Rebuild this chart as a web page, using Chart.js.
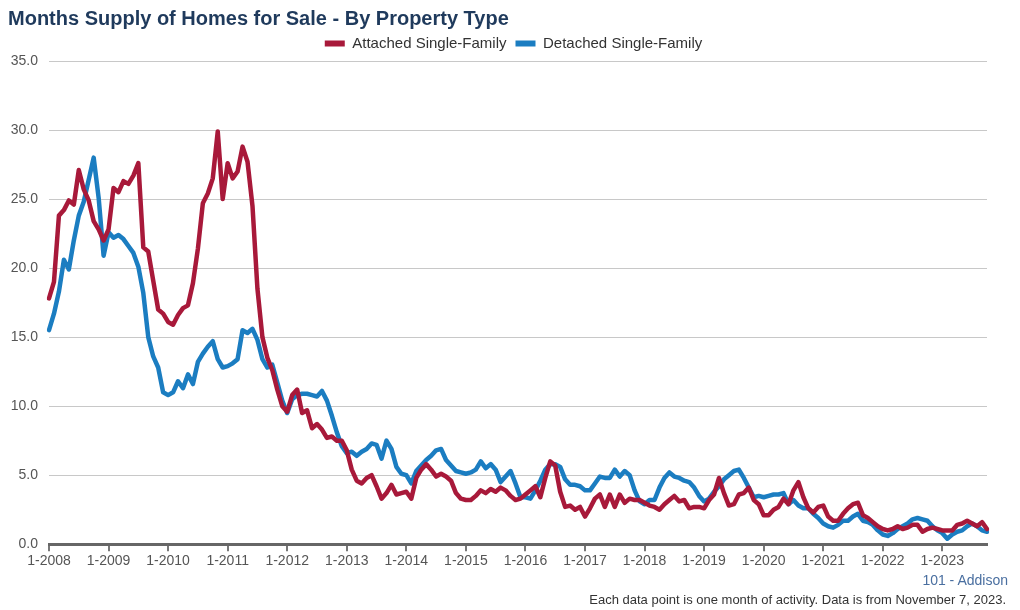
<!DOCTYPE html>
<html>
<head>
<meta charset="utf-8">
<title>Months Supply of Homes for Sale - By Property Type</title>
<script src="https://cdn.jsdelivr.net/npm/chart.js@4.4.1/dist/chart.umd.min.js"></script>
<style>
  html, body { margin: 0; padding: 0; background: #fff; }
  #wrap { position: relative; width: 1020px; height: 610px; font-family: "Liberation Sans", Arial, sans-serif; }
  #area { position: absolute; left: 0; top: 0; width: 1020px; height: 610px; }
  .note { position: absolute; right: 12px; white-space: nowrap; }
  #market { top: 572px; font-size: 14px; color: #4a6fa0; }
  #source { top: 592px; font-size: 13px; color: #333; right: 14px; }
</style>
</head>
<body>
<div id="wrap">
  <div id="area"><canvas id="supplyChart"></canvas></div>
  <div class="note" id="market">101 - Addison</div>
  <div class="note" id="source">Each data point is one month of activity. Data is from November 7, 2023.</div>
</div>
<script>
/* months supply, one value per month, 1-2008 .. 10-2023 */

const FIRST_YEAR = 2008;
const YEAR_TICKS = ['1-2008', '1-2009', '1-2010', '1-2011', '1-2012', '1-2013', '1-2014', '1-2015',
  '1-2016', '1-2017', '1-2018', '1-2019', '1-2020', '1-2021', '1-2022', '1-2023'];
const Y_TICKS = [0, 5, 10, 15, 20, 25, 30, 35];

const ATTACHED = [
  17.8, 19.0, 23.8, 24.2, 24.9, 24.6, 27.1, 25.7, 24.9, 23.4, 22.8, 22.0,
  22.8, 25.8, 25.5, 26.3, 26.1, 26.7, 27.6, 21.5, 21.2, 19.1, 17.0, 16.7,
  16.1, 15.9, 16.6, 17.1, 17.3, 18.9, 21.4, 24.7, 25.4, 26.5, 29.9, 25.0,
  27.6, 26.5, 27.0, 28.8, 27.7, 24.5, 18.5, 15.0, 13.5, 12.6, 11.2, 10.0,
  9.6, 10.8, 11.2, 9.5, 9.7, 8.4, 8.7, 8.3, 7.7, 7.8, 7.5, 7.5,
  6.8, 5.4, 4.6, 4.4, 4.8, 5.0, 4.2, 3.3, 3.7, 4.3, 3.6, 3.7,
  3.8, 3.3, 4.8, 5.4, 5.8, 5.4, 4.9, 5.1, 4.9, 4.6, 3.7, 3.3,
  3.2, 3.2, 3.5, 3.9, 3.7, 4.0, 3.8, 4.1, 3.9, 3.5, 3.2, 3.3,
  3.6, 3.9, 4.2, 3.4, 4.8, 6.0, 5.7, 3.8, 2.7, 2.8, 2.5, 2.7,
  2.0, 2.6, 3.3, 3.6, 2.7, 3.6, 2.7, 3.6, 3.0, 3.3, 3.2, 3.2,
  3.0, 2.8, 2.7, 2.5, 2.9, 3.2, 3.5, 3.1, 3.2, 2.6, 2.7, 2.7,
  2.6, 3.2, 3.6, 4.8, 3.7, 2.8, 2.9, 3.6, 3.7, 4.1, 3.2, 2.9,
  2.1, 2.1, 2.5, 2.7, 3.3, 2.9, 3.9, 4.5, 3.4, 2.6, 2.3, 2.7,
  2.8, 2.0, 1.7, 1.7, 2.2, 2.6, 2.9, 3.0, 2.1, 1.9, 1.6, 1.3,
  1.1, 1.0, 1.1, 1.3, 1.1, 1.2, 1.4, 1.4, 0.9, 1.1, 1.2, 1.1,
  1.0, 1.0, 1.0, 1.4, 1.5, 1.7, 1.5, 1.3, 1.6, 1.1
];

const DETACHED = [
  15.5, 16.7, 18.3, 20.6, 19.9, 22.0, 23.8, 24.8, 26.4, 28.0, 25.1, 20.9,
  22.6, 22.2, 22.4, 22.1, 21.6, 21.1, 20.1, 18.2, 15.0, 13.6, 12.8, 11.0,
  10.8, 11.0, 11.8, 11.3, 12.3, 11.6, 13.2, 13.8, 14.3, 14.7, 13.4, 12.8,
  12.9, 13.1, 13.4, 15.5, 15.3, 15.6, 14.8, 13.4, 12.8, 13.0, 11.7, 10.4,
  9.5, 10.5, 10.8, 10.9, 10.9, 10.8, 10.7, 11.1, 10.4, 9.3, 8.1, 7.1,
  6.6, 6.7, 6.4, 6.7, 6.9, 7.3, 7.2, 6.2, 7.5, 6.9, 5.6, 5.1,
  5.0, 4.4, 5.3, 5.7, 6.1, 6.4, 6.8, 6.9, 6.1, 5.7, 5.3, 5.2,
  5.1, 5.2, 5.4, 6.0, 5.5, 5.8, 5.4, 4.5, 4.9, 5.3, 4.4, 3.4,
  3.4, 3.3, 3.9, 4.6, 5.4, 5.8, 5.8, 5.6, 4.7, 4.3, 4.3, 4.2,
  3.9, 3.9, 4.4, 4.9, 4.8, 4.8, 5.4, 4.9, 5.3, 5.0, 3.9, 3.1,
  2.9, 3.2, 3.2, 4.1, 4.8, 5.2, 4.9, 4.8, 4.6, 4.5, 4.1, 3.5,
  3.1, 3.3, 3.8, 4.2, 4.7, 5.0, 5.3, 5.4, 4.8, 4.1, 3.4, 3.5,
  3.4, 3.5, 3.6, 3.6, 3.7, 2.9, 3.2, 2.8, 2.6, 2.6, 2.2, 1.9,
  1.5, 1.3, 1.2, 1.4, 1.7, 1.7, 2.0, 2.2, 1.7, 1.6, 1.4, 1.0,
  0.7, 0.6, 0.8, 1.1, 1.3, 1.5, 1.8, 1.9, 1.8, 1.7, 1.3, 1.0,
  0.8, 0.4, 0.7, 0.9, 1.0, 1.3, 1.5, 1.3, 1.0, 0.9
];

const RED = '#A8193A';
const BLUE = '#1B7DC1';
const GRID = '#c8c8c8';
const TICK = '#555';
const FONT = '"Liberation Sans", Arial, sans-serif';

// month labels "m-yyyy", only January is printed on the axis
const labels = ATTACHED.map((v, i) => (i % 12 + 1) + '-' + (FIRST_YEAR + Math.floor(i / 12)));

// the legend in the original sits a little right of the plot centre
const legendNudge = {
  id: 'legendNudge',
  afterLayout(chart) {
    chart.legend.left += 16;
    chart.legend.right += 16;
  },
};

new Chart(document.getElementById('supplyChart'), {
  type: 'line',
  data: {
    labels,
    datasets: [
      { label: 'Attached Single-Family', data: ATTACHED, borderColor: RED, backgroundColor: RED,
        borderWidth: 4.5, pointRadius: 0, tension: 0, borderJoinStyle: 'round', borderCapStyle: 'round' },
      { label: 'Detached Single-Family', data: DETACHED, borderColor: BLUE, backgroundColor: BLUE,
        borderWidth: 4.5, pointRadius: 0, tension: 0, borderJoinStyle: 'round', borderCapStyle: 'round' },
    ],
  },
  options: {
    responsive: true, maintainAspectRatio: false, animation: false,
    layout: { padding: { left: 8, right: 33, top: 0, bottom: 38 } },
    plugins: {
      title: {
        display: true, align: 'start', text: 'Months Supply of Homes for Sale - By Property Type',
        color: '#1F3A5C', font: { family: FONT, size: 20, weight: 'bold' },
        padding: { top: 7, bottom: -4 },
      },
      legend: {
        labels: {
          color: '#333', boxWidth: 20, boxHeight: 6, padding: 9,
          font: { family: FONT, size: 15 },
          generateLabels: (chart) => Chart.defaults.plugins.legend.labels.generateLabels(chart)
            .map((l) => Object.assign(l, { lineWidth: 0 })),
        },
      },
      tooltip: { enabled: false },
    },
    scales: {
      x: {
        grid: { drawOnChartArea: false, tickLength: 7, lineWidth: 2,
          color: (ctx) => (ctx.index % 12 === 0 ? '#777' : 'rgba(0,0,0,0)') },
        border: { display: true, color: '#666', width: 3 },
        ticks: {
          autoSkip: false, maxRotation: 0, color: TICK, padding: 2,
          font: { family: FONT, size: 14 },
          callback: function (value) {
            const l = this.getLabelForValue(value);
            return YEAR_TICKS.includes(l) ? l : '';
          },
        },
      },
      y: {
        min: Y_TICKS[0], max: Y_TICKS[Y_TICKS.length - 1],
        afterBuildTicks: (axis) => { axis.ticks = Y_TICKS.map((v) => ({ value: v })); },
        afterFit: (axis) => { axis.width = 41; },
        grid: { color: GRID, drawTicks: false },
        border: { display: false },
        ticks: { color: TICK, padding: 11, callback: (v) => v.toFixed(1),
          font: { family: FONT, size: 14 } },
      },
    },
  },
  plugins: [legendNudge],
});
</script>
</body>
</html>
